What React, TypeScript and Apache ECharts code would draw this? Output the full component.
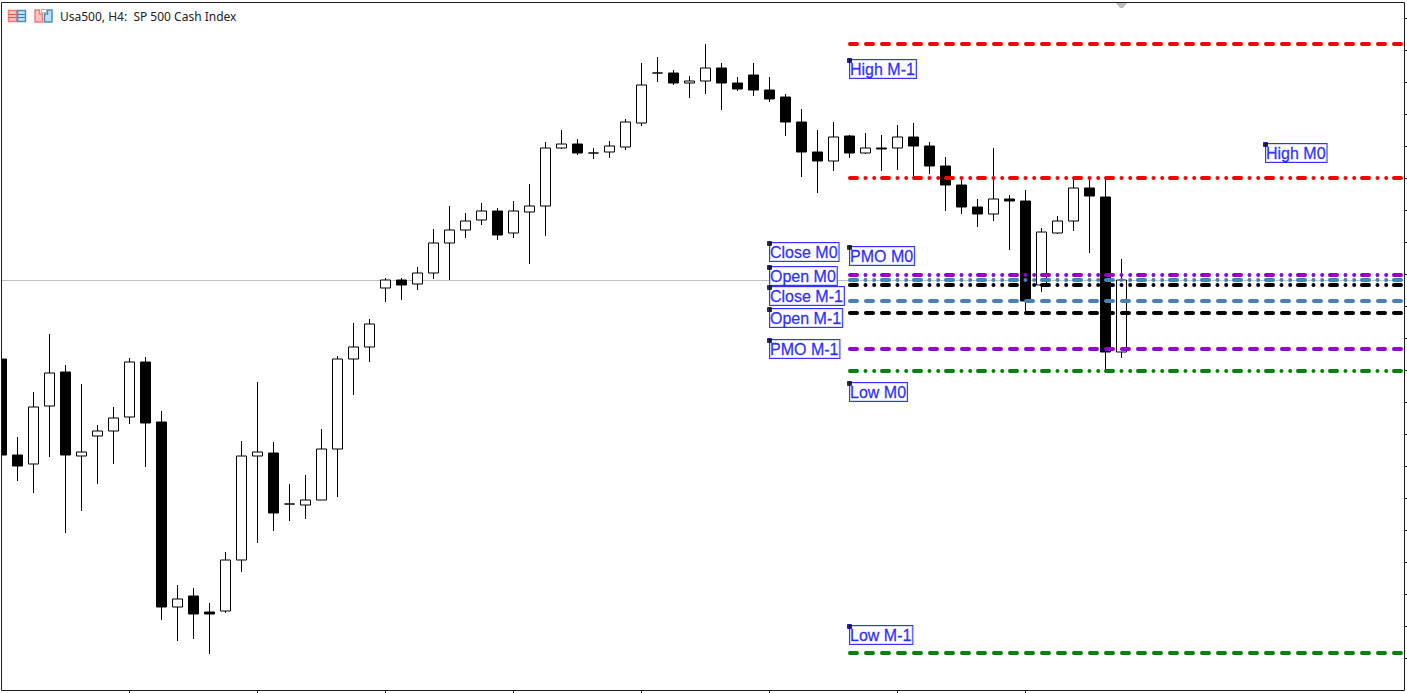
import React, { useEffect, useRef } from "react";
import * as echarts from "echarts";

// Price readings on the chart's own unlabelled scale (one unit per screen pixel)
const opens = [331,235,226,284,318,234,254,259,273,328,268,83,94,78,79,130,234,237,186,185,190,241,331,343,402,410,406,417,447,460,470,479,457,478,484,542,546,537,538,543,567,617,617,607,609,622,607,615,600,593,568,538,529,554,537,542,542,553,544,524,505,483,476,491,489,405,457,469,502,493,338];
const closes = [235,224,283,317,235,238,259,272,328,267,83,91,76,76,130,234,238,177,186,190,241,331,343,366,410,405,417,447,460,469,479,455,479,484,542,546,537,537,544,568,605,617,607,609,622,607,601,600,591,568,538,529,553,537,542,541,553,544,524,505,483,476,491,489,389,458,469,502,494,338,410];
const lows = [235,209,197,233,157,179,206,226,266,223,70,49,51,36,77,118,147,159,169,171,190,193,295,328,388,390,400,411,410,452,465,450,452,426,454,541,535,531,532,540,564,608,605,592,596,580,599,594,588,554,513,497,519,532,536,519,520,513,516,479,476,463,469,440,379,398,456,459,437,320,332];
const highs = [331,253,298,356,325,306,265,283,332,333,279,105,102,87,138,249,308,248,206,215,261,334,367,371,412,412,423,461,484,477,487,482,489,506,548,560,551,542,549,571,627,633,620,614,646,627,613,627,613,596,581,560,568,555,557,555,565,567,548,533,510,491,542,495,500,462,474,512,510,512,431];

const levelNames = ["High M-1","High M0","PMO M0","Close M0","Open M0","Close M-1","Open M-1","PMO M-1","Low M0","Low M-1"];
const levelValues = [646,512,415,410,405,389,377,341,319,37];

const labelNames = ["Close M0","Open M0","Close M-1","Open M-1","PMO M-1","High M-1","PMO M0","Low M0","Low M-1","High M0"];
const labelBars = [48,48,48,48,48,53,53,53,53,79];
const labelValues = [446.5,422.5,402.5,380.5,349.5,629.5,442.5,306.5,63.5,545.5];

const lastPrice = 409.5;
const levelStartBar = 53.03;
const levelEndBar = 87.47;
const barSlots = 89;
const categories = Array.from({ length: barSlots }, (_, i) => String(i));

const RED = "#ff0000", PURPLE = "#9400d3", BLUE = "#4682b4", BLACK = "#000000", GREEN = "#008000";
const DASH = [7, 9];
const DASHDOT = [7, 8.5, 0.01, 8.7, 0.01, 7.78];
const levelColors = [RED, RED, PURPLE, BLUE, BLACK, BLUE, BLACK, PURPLE, GREEN, GREEN];
const levelDashes = [DASH, DASHDOT, DASHDOT, DASHDOT, DASHDOT, DASH, DASH, DASH, DASHDOT, DASH];

const FRAME = "#1c1c1c";
const textBlue = "#0000ff";

export default function App() {
  const ref = useRef<HTMLDivElement>(null);
  useEffect(() => {
    const chart = echarts.init(ref.current!, null, { renderer: "svg" });
    const candles = opens.map((o, i) => [o, closes[i], lows[i], highs[i]]);
    const levelSeries = levelNames.map((name, i) => ({
      name,
      type: "line",
      xAxisIndex: 1,
      yAxisIndex: 0,
      z: 4,
      symbol: "none",
      silent: true,
      lineStyle: { color: levelColors[i], width: 4, type: levelDashes[i], cap: "round" },
      data: [[levelStartBar, levelValues[i]], [levelEndBar, levelValues[i]]],
    }));
    chart.setOption({
      animation: false,
      backgroundColor: "#ffffff",
      grid: { left: -6.5, top: -14, width: 16 * barSlots, height: 672, outerBoundsMode: "none" },
      xAxis: [
        {
          type: "category",
          data: categories,
          position: "bottom",
          offset: 32,
          axisLine: { show: false, onZero: false },
          axisLabel: { show: false },
          axisTick: {
            show: true,
            length: 3,
            alignWithLabel: true,
            interval: (i: number) => i > 0 && i <= 64 && i % 8 === 0,
            lineStyle: { color: FRAME, width: 1 },
          },
          splitLine: { show: false },
        },
        { type: "value", min: -0.5, max: barSlots - 0.5, show: false },
      ],
      yAxis: {
        type: "value",
        min: 32,
        max: 704,
        interval: 32,
        position: "right",
        offset: -13.5,
        axisLine: { show: false, onZero: false },
        axisLabel: { show: false },
        axisTick: { show: true, length: 3, lineStyle: { color: FRAME, width: 1 } },
        splitLine: { show: false },
      },
      series: [
        {
          name: "Bid",
          type: "line",
          xAxisIndex: 1,
          yAxisIndex: 0,
          z: 1,
          symbol: "none",
          silent: true,
          lineStyle: { color: "#c0c0c0", width: 1 },
          data: [[-0.03, lastPrice], [87.64, lastPrice]],
        },
        {
          name: "Usa500",
          type: "candlestick",
          xAxisIndex: 0,
          yAxisIndex: 0,
          z: 3,
          barWidth: 10,
          silent: true,
          itemStyle: {
            color: "#ffffff",
            color0: "#000000",
            borderColor: "#000000",
            borderColor0: "#000000",
            borderWidth: 1,
          },
          data: candles,
        },
        ...levelSeries,
        {
          name: "labels",
          type: "scatter",
          xAxisIndex: 1,
          yAxisIndex: 0,
          z: 6,
          symbol: "rect",
          symbolSize: 1,
          silent: true,
          itemStyle: { color: "rgba(0,0,0,0)" },
          label: {
            show: true,
            position: ["50%", "50%"],
            offset: [0.5, -0.5],
            align: "left",
            verticalAlign: "top",
            formatter: (p: any) => labelNames[p.dataIndex],
            fontFamily: "Liberation Sans",
            fontSize: 16,
            lineHeight: 18,
            color: textBlue,
            textBorderColor: textBlue,
            textBorderWidth: 0.3,
            backgroundColor: "#ffffff",
            borderColor: textBlue,
            borderWidth: 1,
            padding: [0, 1, 0, 0],
          },
          data: labelBars.map((b, i) => [b, labelValues[i]]),
        },
        {
          name: "anchors",
          type: "scatter",
          xAxisIndex: 1,
          yAxisIndex: 0,
          z: 7,
          symbol: "rect",
          symbolSize: 4,
          silent: true,
          itemStyle: { color: "#000000", borderColor: "#0000cc", borderWidth: 1 },
          data: labelBars.map((b, i) => [b, labelValues[i]]),
        },
      ],
      graphic: [
        { type: "rect", z: 100, shape: { x: 0, y: 0, width: 1, height: 693 }, style: { fill: "#ffffff" } },
        { type: "rect", z: 101, shape: { x: 1.5, y: 2.5, width: 1403, height: 688 }, style: { fill: "none", stroke: FRAME, lineWidth: 1 } },
        { type: "polygon", z: 102, shape: { points: [[1116, 3], [1127, 3], [1123, 8], [1120, 8]] }, style: { fill: "#bdbdbd" } },
        // window icons
        { type: "rect", z: 102, shape: { x: 8.5, y: 10.5, width: 8, height: 11 }, style: { fill: "#fbc4c0", stroke: "#ee7f78", lineWidth: 1.5 } },
        { type: "rect", z: 102, shape: { x: 17.5, y: 10.5, width: 8, height: 11 }, style: { fill: "#bfe0f5", stroke: "#4a90c8", lineWidth: 1.5 } },
        { type: "line", z: 103, shape: { x1: 9, y1: 14.5, x2: 16, y2: 14.5 }, style: { stroke: "#e8524a", lineWidth: 1 } },
        { type: "line", z: 103, shape: { x1: 9, y1: 17.5, x2: 16, y2: 17.5 }, style: { stroke: "#e8524a", lineWidth: 1 } },
        { type: "line", z: 103, shape: { x1: 18, y1: 14.5, x2: 25, y2: 14.5 }, style: { stroke: "#2f7db8", lineWidth: 1 } },
        { type: "line", z: 103, shape: { x1: 18, y1: 17.5, x2: 25, y2: 17.5 }, style: { stroke: "#2f7db8", lineWidth: 1 } },
        { type: "polygon", z: 102, shape: { points: [[35, 10], [39.5, 10], [39.5, 14], [42.5, 14], [42.5, 22], [35, 22]] }, style: { fill: "#fbc4c0", stroke: "#ee7f78", lineWidth: 1.5 } },
        { type: "polygon", z: 102, shape: { points: [[47.5, 10], [52, 10], [52, 22], [44.5, 22], [44.5, 14], [47.5, 14]] }, style: { fill: "#bfe0f5", stroke: "#4a90c8", lineWidth: 1.5 } },
        { type: "rect", z: 103, shape: { x: 41.5, y: 9.5, width: 5, height: 3 }, style: { fill: "#ffffff", stroke: "#b0b0b0", lineWidth: 1 } },
        {
          type: "text",
          z: 102,
          x: 60,
          y: 16.5,
          style: {
            text: "Usa500, H4:  SP 500 Cash Index",
            fontFamily: "Noto Sans",
            fontSize: 12,
            fill: "#222222",
            verticalAlign: "middle",
          },
        },
      ],
    });
    return () => chart.dispose();
  }, []);
  return <div ref={ref} style={{ position: "absolute", left: 0, top: 0, width: 1407, height: 693 }} />;
}
